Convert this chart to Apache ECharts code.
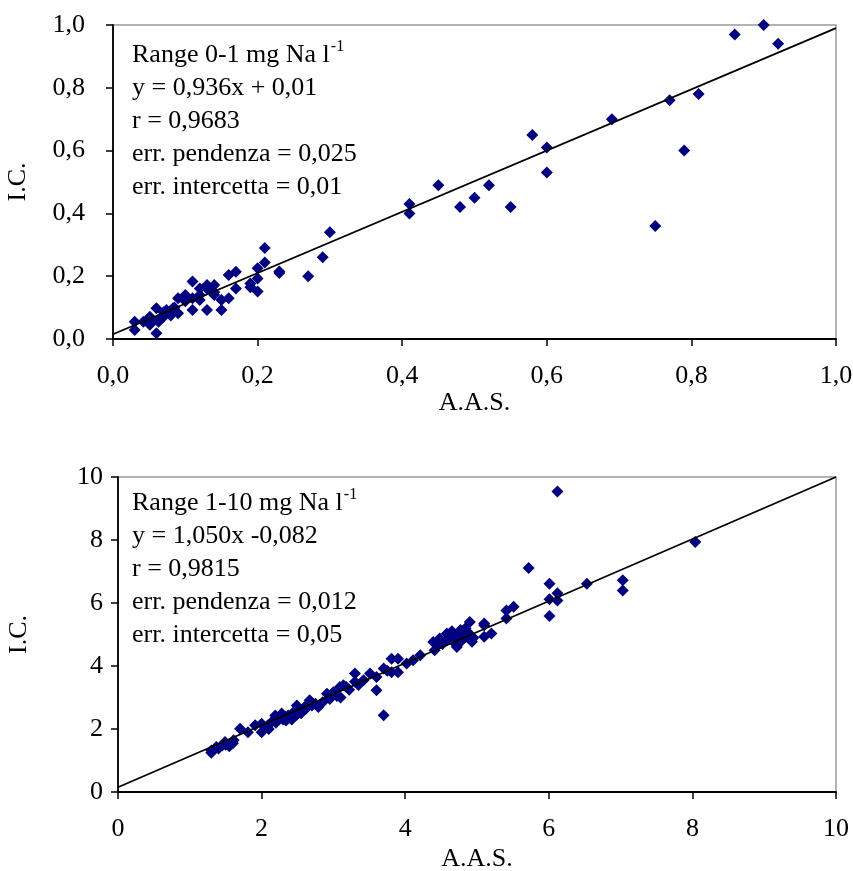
<!DOCTYPE html>
<html>
<head>
<meta charset="utf-8">
<script src="https://cdn.jsdelivr.net/npm/echarts@6/dist/echarts.min.js"></script>
<style>
html,body{margin:0;padding:0;background:#fff;}
#c{width:853px;height:871px;}
</style>
</head>
<body>
<div id="c"></div>
<script>
// ---- Top chart: range 0-1 mg Na/l ----
const topAAS = [0.90,0.86,0.92,0.69,0.77,0.81,0.79,0.75,
  0.58,0.60,0.60,0.55,0.52,0.50,0.48,0.45,0.41,0.41,0.30,0.29,0.27,0.23,
  0.21,0.21,0.20,0.20,0.20,0.19,0.17,0.16,0.17,0.16,0.15,0.15,0.14,0.14,0.13,0.13,0.12,0.11,0.13,0.11,0.12,0.11,0.10,0.09,0.083,0.09,0.074,0.07,0.06,0.063,0.06,0.051,0.051,0.042,0.03,0.03,0.08,0.10,0.12,0.07,0.065,0.085,0.055,0.14,0.23,0.19];
const topIC = [1.00,0.97,0.94,0.70,0.76,0.78,0.60,0.36,
  0.65,0.61,0.53,0.42,0.49,0.45,0.42,0.49,0.43,0.40,0.34,0.26,0.20,0.21,
  0.29,0.244,0.225,0.193,0.151,0.177,0.214,0.204,0.161,0.13,0.124,0.092,0.172,0.14,0.172,0.16,0.161,0.183,0.092,0.092,0.124,0.13,0.14,0.13,0.098,0.082,0.092,0.071,0.098,0.055,0.018,0.071,0.045,0.055,0.055,0.029,0.075,0.12,0.14,0.085,0.065,0.10,0.06,0.15,0.215,0.165];
const topFitX = [0, 1];
const topFitY = [0.015, 0.99];
const topXTicks = {min: 0, max: 1, step: 0.2};
const topYTicks = {min: 0, max: 1, step: 0.2};
const topNote = ['Range 0-1 mg Na l', 'y = 0,936x + 0,01', 'r = 0,9683', 'err. pendenza = 0,025', 'err. intercetta = 0,01'];

// ---- Bottom chart: range 1-10 mg Na/l ----
const botAAS = [1.30,1.30,1.37,1.40,1.45,1.49,1.50,1.55,1.61,1.60,1.70,1.81,1.91,2.00,2.00,2.05,2.09,2.10,2.15,2.19,2.20,2.25,2.28,2.30,2.33,2.34,2.37,2.40,2.42,2.45,2.49,2.49,2.52,2.55,2.58,2.60,2.62,2.67,2.70,2.75,2.79,2.85,2.91,2.95,3.00,3.05,3.09,3.10,3.14,3.18,3.22,3.30,3.30,3.35,3.42,3.51,3.60,3.60,3.70,3.70,3.75,3.81,3.81,3.90,3.90,4.02,4.11,4.21,4.39,4.41,4.45,4.48,4.52,4.58,4.58,4.62,4.65,4.67,4.70,4.72,4.75,4.77,4.77,4.80,4.84,4.84,4.88,4.90,4.90,4.93,4.95,5.10,5.10,5.20,5.10,5.41,5.41,5.51,5.72,6.01,6.01,6.01,6.12,6.12,6.12,6.53,7.03,7.03,8.04];
const botIC = [1.32,1.25,1.43,1.38,1.48,1.59,1.50,1.45,1.64,1.55,2.01,1.90,2.12,1.90,2.17,2.05,2.12,2.00,2.25,2.43,2.20,2.35,2.49,2.30,2.40,2.27,2.43,2.35,2.30,2.55,2.75,2.45,2.62,2.50,2.59,2.70,2.65,2.91,2.75,2.80,2.70,2.85,3.12,2.95,3.17,3.05,3.33,3.00,3.39,3.33,3.25,3.76,3.50,3.40,3.55,3.76,3.65,3.23,2.44,3.92,3.85,4.23,3.80,4.23,3.80,4.08,4.18,4.34,4.76,4.50,4.65,4.87,4.70,5.03,4.82,4.95,5.10,4.90,4.70,4.60,5.00,5.14,4.77,4.85,4.92,5.20,5.05,5.40,5.00,4.77,4.90,5.35,4.93,5.03,5.29,5.76,5.51,5.88,7.11,6.61,6.12,5.59,6.31,6.08,9.54,6.61,6.72,6.40,7.94];
const botFitX = [0, 10];
const botFitY = [0.15, 10.0];
const botXTicks = {min: 0, max: 10, step: 2};
const botYTicks = {min: 0, max: 10, step: 2};
const botNote = ['Range 1-10 mg Na l', 'y = 1,050x -0,082', 'r = 0,9815', 'err. pendenza = 0,012', 'err. intercetta = 0,05'];
const supText = '-1';

const FONT = '"Liberation Serif", "Times New Roman", serif';
const FS = 26;
const zip = (a, b) => a.map((v, i) => [v, b[i]]);
const comma1 = v => v.toFixed(1).replace('.', ',');

function noteText(lines) {
  return '{t|' + lines[0] + '}{s|' + supText + '}\n' + lines.slice(1).map(l => '{t|' + l + '}').join('\n');
}
const richStyle = {
  t: {fontFamily: FONT, fontSize: FS, lineHeight: 33, fill: '#000'},
  s: {fontFamily: FONT, fontSize: 16, lineHeight: 33, fill: '#000', verticalAlign: 'top', padding: [0,0,0,1]}
};

function xAxis(idx, t, fmt) {
  return {
    gridIndex: idx, type: 'value', min: t.min, max: t.max, interval: t.step,
    name: 'A.A.S.', nameLocation: 'middle', nameGap: idx === 0 ? 47 : 54,
    nameTextStyle: {fontFamily: FONT, fontSize: FS, color: '#000'},
    axisLine: {show: true, onZero: false, lineStyle: {color: '#000', width: 1.8}},
    axisTick: {show: true, inside: false, length: 7, lineStyle: {color: '#000', width: 1.5}},
    axisLabel: {fontFamily: FONT, fontSize: FS, color: '#000', margin: 24, formatter: fmt},
    splitLine: {show: false}
  };
}
function yAxis(idx, t, fmt, gap, margin) {
  return {
    gridIndex: idx, type: 'value', min: t.min, max: t.max, interval: t.step,
    name: 'I.C.', nameLocation: 'middle', nameGap: gap, nameRotate: 90,
    nameTextStyle: {fontFamily: FONT, fontSize: FS, color: '#000'},
    axisLine: {show: true, onZero: false, lineStyle: {color: '#000', width: 1.8}},
    axisTick: {show: true, inside: false, length: 7, lineStyle: {color: '#000', width: 1.5}},
    axisLabel: {fontFamily: FONT, fontSize: FS, color: '#000', margin: margin, formatter: fmt},
    splitLine: {show: false}
  };
}

const chart = echarts.init(document.getElementById('c'), null, {renderer: 'canvas'});
chart.setOption({
  animation: false,
  backgroundColor: '#fff',
  grid: [
    {left: 113, top: 25, width: 723, height: 314, show: true, borderColor: '#999', borderWidth: 1.5, containLabel: false, outerBoundsMode: 'none'},
    {left: 118, top: 477, width: 718, height: 315, show: true, borderColor: '#999', borderWidth: 1.5, containLabel: false, outerBoundsMode: 'none'}
  ],
  xAxis: [xAxis(0, topXTicks, comma1), xAxis(1, botXTicks, v => String(v))],
  yAxis: [yAxis(0, topYTicks, comma1, 82, 28), yAxis(1, botYTicks, v => String(v), 86, 15)],
  series: [
    {type: 'scatter', xAxisIndex: 0, yAxisIndex: 0, symbol: 'diamond', symbolSize: 12,
     itemStyle: {color: '#000080', opacity: 1}, data: zip(topAAS, topIC), z: 2},
    {type: 'line', xAxisIndex: 0, yAxisIndex: 0, showSymbol: false, symbol: 'none',
     lineStyle: {color: '#000', width: 1.8}, data: zip(topFitX, topFitY), z: 3},
    {type: 'scatter', xAxisIndex: 1, yAxisIndex: 1, symbol: 'diamond', symbolSize: 12,
     itemStyle: {color: '#000080', opacity: 1}, data: zip(botAAS, botIC), z: 2},
    {type: 'line', xAxisIndex: 1, yAxisIndex: 1, showSymbol: false, symbol: 'none',
     lineStyle: {color: '#000', width: 1.8}, data: zip(botFitX, botFitY), z: 3}
  ],
  graphic: [
    {type: 'text', left: 132, top: 39, z: 10, style: {text: noteText(topNote), rich: richStyle, fontFamily: FONT, fontSize: FS}},
    {type: 'text', left: 132, top: 487, z: 10, style: {text: noteText(botNote), rich: richStyle, fontFamily: FONT, fontSize: FS}}
  ]
});
</script>
</body>
</html>
